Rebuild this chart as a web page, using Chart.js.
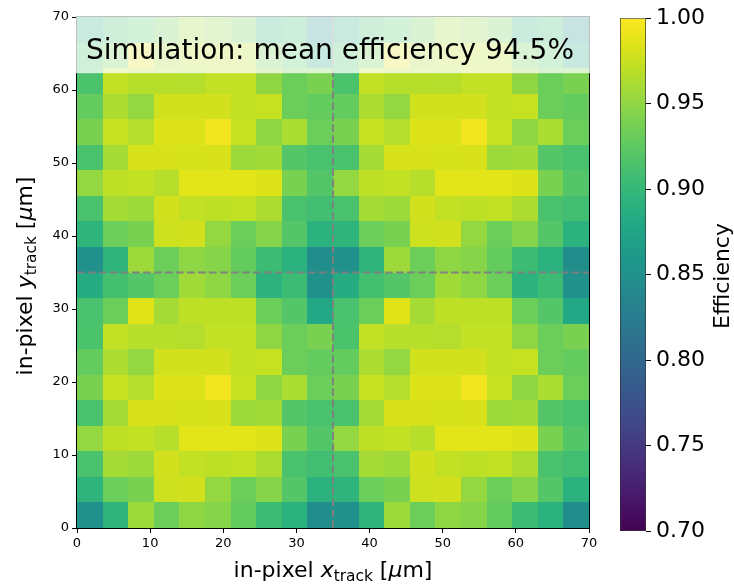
<!DOCTYPE html>
<html>
<head>
<meta charset="utf-8">
<script src="https://cdn.jsdelivr.net/npm/chart.js@4.4.1/dist/chart.umd.min.js"></script>
<style>
  html, body { margin: 0; padding: 0; background: #fff; }
  #wrap { position: relative; width: 734px; height: 586px; }
  canvas { position: absolute; top: 0; }
  #map { left: 0; }
  #bar { left: 600px; }
</style>
</head>
<body>
<div id="wrap">
  <canvas id="map" width="734" height="586"></canvas>
  <canvas id="bar" width="134" height="586"></canvas>
</div>
<script>
const titleText = 'Simulation: mean efficiency 94.5%';
const cellSize = 3.5; // µm, bin width in x and y
const xTicks = [0, 10, 20, 30, 40, 50, 60, 70];
const yTicks = [0, 10, 20, 30, 40, 50, 60, 70];
const cbTicks = [0.70, 0.75, 0.80, 0.85, 0.90, 0.95, 1.00];
const vMin = 0.70, vMax = 1.00;

// efficiency per bin, rows from y = 0 upwards, columns from x = 0 to the right
const effRows = [
  [0.850,0.895,0.956,0.932,0.949,0.945,0.928,0.904,0.892,0.847, 0.850,0.895,0.956,0.932,0.949,0.945,0.928,0.904,0.892,0.847],
  [0.895,0.932,0.940,0.977,0.979,0.952,0.932,0.945,0.919,0.892, 0.895,0.932,0.940,0.977,0.979,0.952,0.932,0.945,0.919,0.892],
  [0.913,0.960,0.956,0.979,0.972,0.970,0.972,0.963,0.913,0.908, 0.913,0.960,0.956,0.979,0.972,0.970,0.972,0.963,0.913,0.908],
  [0.952,0.970,0.972,0.967,0.987,0.987,0.987,0.984,0.940,0.919, 0.952,0.970,0.972,0.967,0.987,0.987,0.987,0.984,0.940,0.919],
  [0.913,0.960,0.982,0.982,0.981,0.982,0.956,0.958,0.919,0.913, 0.913,0.960,0.982,0.982,0.981,0.982,0.956,0.958,0.919,0.913],
  [0.940,0.974,0.966,0.984,0.984,0.994,0.974,0.949,0.962,0.932, 0.940,0.974,0.966,0.984,0.984,0.994,0.974,0.949,0.962,0.932],
  [0.928,0.963,0.952,0.979,0.979,0.979,0.972,0.974,0.932,0.928, 0.928,0.963,0.952,0.979,0.979,0.979,0.972,0.974,0.932,0.928],
  [0.914,0.972,0.967,0.967,0.966,0.972,0.972,0.950,0.932,0.940, 0.914,0.972,0.967,0.967,0.966,0.972,0.972,0.950,0.932,0.940],
  [0.913,0.932,0.985,0.960,0.970,0.970,0.970,0.932,0.919,0.880, 0.913,0.932,0.985,0.960,0.970,0.970,0.970,0.932,0.919,0.880],
  [0.885,0.910,0.919,0.932,0.957,0.949,0.932,0.893,0.904,0.850, 0.885,0.910,0.919,0.932,0.957,0.949,0.932,0.893,0.904,0.850],
  [0.850,0.895,0.956,0.932,0.949,0.945,0.928,0.904,0.892,0.847, 0.850,0.895,0.956,0.932,0.949,0.945,0.928,0.904,0.892,0.847],
  [0.895,0.932,0.940,0.977,0.979,0.952,0.932,0.945,0.919,0.892, 0.895,0.932,0.940,0.977,0.979,0.952,0.932,0.945,0.919,0.892],
  [0.913,0.960,0.956,0.979,0.972,0.970,0.972,0.963,0.913,0.908, 0.913,0.960,0.956,0.979,0.972,0.970,0.972,0.963,0.913,0.908],
  [0.952,0.970,0.972,0.967,0.987,0.987,0.987,0.984,0.940,0.919, 0.952,0.970,0.972,0.967,0.987,0.987,0.987,0.984,0.940,0.919],
  [0.913,0.960,0.982,0.982,0.981,0.982,0.956,0.958,0.919,0.913, 0.913,0.960,0.982,0.982,0.981,0.982,0.956,0.958,0.919,0.913],
  [0.940,0.974,0.966,0.984,0.984,0.994,0.974,0.949,0.962,0.932, 0.940,0.974,0.966,0.984,0.984,0.994,0.974,0.949,0.962,0.932],
  [0.928,0.963,0.952,0.979,0.979,0.979,0.972,0.974,0.932,0.928, 0.928,0.963,0.952,0.979,0.979,0.979,0.972,0.974,0.932,0.928],
  [0.914,0.972,0.967,0.967,0.966,0.972,0.972,0.950,0.932,0.940, 0.914,0.972,0.967,0.967,0.966,0.972,0.972,0.950,0.932,0.940],
  [0.913,0.932,0.985,0.960,0.970,0.970,0.970,0.932,0.919,0.880, 0.913,0.932,0.985,0.960,0.970,0.970,0.970,0.932,0.919,0.880],
  [0.885,0.910,0.919,0.932,0.957,0.949,0.932,0.893,0.904,0.850, 0.885,0.910,0.919,0.932,0.957,0.949,0.932,0.893,0.904,0.850]
];

// viridis, sampled every 0.05
const viridisStops = ['#440154','#471365','#482475','#463480','#414487','#3b528b','#355f8d',
  '#2f6c8e','#2a788e','#25848e','#21918c','#1e9c89','#22a884','#2fb47c','#44bf70',
  '#5ec962','#7ad151','#9bd93c','#bddf26','#dfe318','#fde725'];

function hexRgb(h) {
  return [parseInt(h.slice(1, 3), 16), parseInt(h.slice(3, 5), 16), parseInt(h.slice(5, 7), 16)];
}

function viridis(t) {
  t = Math.min(1, Math.max(0, t));
  const n = viridisStops.length - 1;
  const i = Math.min(n - 1, Math.floor(t * n));
  const f = t * n - i;
  const a = hexRgb(viridisStops[i]), b = hexRgb(viridisStops[i + 1]);
  const c = a.map((v, k) => Math.round(v + (b[k] - v) * f));
  return `rgb(${c[0]},${c[1]},${c[2]})`;
}

Chart.defaults.font.family = '"DejaVu Sans", sans-serif';

// label made of pieces in different fonts (for the subscript / math parts)
function drawMixed(ctx, parts, cx, baseline) {
  let total = 0;
  parts.forEach(p => { ctx.font = p.font; total += ctx.measureText(p.text).width; });
  let x = cx - total / 2;
  ctx.textAlign = 'left';
  ctx.textBaseline = 'alphabetic';
  parts.forEach(p => {
    ctx.font = p.font;
    ctx.fillText(p.text, x, baseline + (p.dy || 0));
    x += ctx.measureText(p.text).width;
  });
}

const normal = '22px "DejaVu Sans"';
const slanted = 'italic 22px "DejaVu Sans"';
const small = '15.4px "DejaVu Sans"';
const xLabel = [
  {text: 'in-pixel ', font: normal}, {text: 'x', font: slanted},
  {text: 'track', font: small, dy: 3.5}, {text: ' [', font: normal},
  {text: 'μ', font: slanted}, {text: 'm]', font: normal}
];
const yLabel = [
  {text: 'in-pixel ', font: normal}, {text: 'y', font: slanted},
  {text: 'track', font: small, dy: 3.5}, {text: ' [', font: normal},
  {text: 'μ', font: slanted}, {text: 'm]', font: normal}
];

const cellPoints = [];
effRows.forEach((row, r) => row.forEach((v, c) => {
  cellPoints.push({x: (c + 0.5) * cellSize, y: (r + 0.5) * cellSize, v: v});
}));

const heatCells = {
  id: 'heatCells',
  beforeDatasetsDraw(chart) {
    const {ctx, scales: {x, y}} = chart;
    const half = cellSize / 2;
    ctx.save();
    chart.data.datasets[0].data.forEach(p => {
      const l = Math.round(x.getPixelForValue(p.x - half));
      const r = Math.round(x.getPixelForValue(p.x + half));
      const t = Math.round(y.getPixelForValue(p.y + half));
      const b = Math.round(y.getPixelForValue(p.y - half));
      ctx.fillStyle = viridis((p.v - vMin) / (vMax - vMin));
      ctx.fillRect(l, t, r - l, b - t);
    });
    ctx.restore();
  },
  afterDatasetsDraw(chart) {
    const {ctx, chartArea: a, scales: {x, y}} = chart;
    ctx.save();
    // pixel centre lines
    ctx.strokeStyle = 'rgba(128,128,128,0.95)';
    ctx.lineWidth = 2;
    ctx.setLineDash([7.7, 3.3]);
    const px = x.getPixelForValue(35), py = y.getPixelForValue(35);
    ctx.beginPath(); ctx.moveTo(px, a.bottom); ctx.lineTo(px, a.top); ctx.stroke();
    ctx.beginPath(); ctx.moveTo(a.left, py); ctx.lineTo(a.right, py); ctx.stroke();
    ctx.setLineDash([]);
    // axes frame
    ctx.strokeStyle = '#000';
    ctx.lineWidth = 1;
    ctx.strokeRect(a.left - 0.5, a.top - 0.5, a.right - a.left + 1, a.bottom - a.top + 1);
    // title in a translucent box
    const boxBottom = y.getPixelForValue(62.3);
    ctx.fillStyle = 'rgba(255,255,255,0.75)';
    ctx.fillRect(a.left - 1, a.top - 2, a.right - a.left + 2, boxBottom - a.top + 2);
    ctx.fillStyle = '#000';
    ctx.font = '28px "DejaVu Sans"';
    ctx.textAlign = 'center';
    ctx.textBaseline = 'alphabetic';
    ctx.fillText(titleText, (a.left + a.right) / 2 - 3, a.top + 42);
    ctx.restore();
  },
  afterDraw(chart) {
    const {ctx, chartArea: a} = chart;
    ctx.save();
    ctx.fillStyle = '#000';
    drawMixed(ctx, xLabel, (a.left + a.right) / 2, 577);
    ctx.translate(32, 276);
    ctx.rotate(-Math.PI / 2);
    drawMixed(ctx, yLabel, 0, 0);
    ctx.restore();
  }
};

const tickFont = {size: 13};

new Chart(document.getElementById('map'), {
  type: 'scatter',
  data: {
    datasets: [{
      label: 'Efficiency',
      data: cellPoints,
      pointRadius: 0,
      pointHoverRadius: 0
    }]
  },
  options: {
    responsive: false,
    animation: false,
    events: [],
    layout: {padding: {left: 0, top: 17, right: 145, bottom: 0}},
    plugins: {legend: {display: false}, tooltip: {enabled: false}},
    scales: {
      x: {
        type: 'linear', min: 0, max: 70,
        afterBuildTicks: s => { s.ticks = xTicks.map(v => ({value: v})); },
        afterFit: s => { s.height = 58; },
        ticks: {font: tickFont, color: '#000', padding: 3, maxRotation: 0},
        grid: {drawOnChartArea: false, drawTicks: true, tickLength: 5, color: '#000'},
        border: {display: false}
      },
      y: {
        type: 'linear', min: 0, max: 70,
        afterBuildTicks: s => { s.ticks = yTicks.map(v => ({value: v})); },
        afterFit: s => { s.width = 77; },
        ticks: {font: tickFont, color: '#000', padding: 3},
        grid: {drawOnChartArea: false, drawTicks: true, tickLength: 5, color: '#000'},
        border: {display: false}
      }
    }
  },
  plugins: [heatCells]
});

// colour bar
function viridisGradient(chart) {
  const {ctx, chartArea, scales} = chart;
  if (!chartArea || !scales.y) return viridisStops[viridisStops.length - 1];
  const g = ctx.createLinearGradient(0, scales.y.getPixelForValue(vMin), 0, scales.y.getPixelForValue(vMax));
  viridisStops.forEach((c, i) => g.addColorStop(i / (viridisStops.length - 1), c));
  return g;
}

const cbTitle = {
  id: 'cbTitle',
  afterDraw(chart) {
    const {ctx} = chart;
    ctx.save();
    ctx.fillStyle = '#000';
    ctx.font = '22px "DejaVu Sans"';
    ctx.textAlign = 'center';
    ctx.textBaseline = 'alphabetic';
    ctx.translate(129, 276);
    ctx.rotate(-Math.PI / 2);
    ctx.fillText('Efficiency', 0, 0);
    ctx.restore();
  }
};

new Chart(document.getElementById('bar'), {
  type: 'bar',
  data: {
    labels: ['Efficiency'],
    datasets: [{
      data: [[vMin, vMax]],
      backgroundColor: ctx => viridisGradient(ctx.chart),
      borderColor: '#333',
      borderWidth: 1,
      borderSkipped: false,
      barPercentage: 1,
      categoryPercentage: 1
    }]
  },
  options: {
    responsive: false,
    animation: false,
    events: [],
    layout: {padding: {top: 15, bottom: 55, left: 20, right: 0}},
    plugins: {legend: {display: false}, tooltip: {enabled: false}},
    scales: {
      x: {display: false},
      y: {
        position: 'right', min: vMin, max: vMax,
        afterBuildTicks: s => { s.ticks = cbTicks.map(v => ({value: v})); },
        afterFit: s => { s.width = 88; },
        ticks: {font: {size: 22}, color: '#000', padding: 5, callback: v => v.toFixed(2)},
        grid: {drawOnChartArea: false, drawTicks: true, tickLength: 5, color: '#000'},
        border: {display: false}
      }
    }
  },
  plugins: [cbTitle]
});
</script>
</body>
</html>
